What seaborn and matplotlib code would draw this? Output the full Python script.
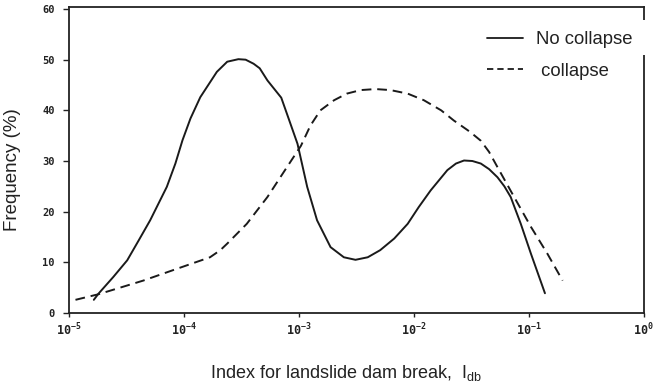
import numpy as np
import pandas as pd
import matplotlib
matplotlib.use("Agg")
import matplotlib.pyplot as plt
import matplotlib.patches as mpatches
from matplotlib.lines import Line2D
import seaborn as sns

# ---- data ----
no_collapse_x = [1.66e-5, 1.82e-5, 2.45e-5, 3.24e-5, 4.07e-5, 5.13e-5, 7.16e-5, 8.5e-5,
                 9.8e-5, 1.15e-4, 1.40e-4, 1.95e-4, 2.4e-4, 3.0e-4, 3.47e-4, 4.07e-4,
                 4.6e-4, 5.37e-4, 7.08e-4, 8.2e-4, 9.8e-4, 1.19e-3, 1.45e-3, 1.9e-3,
                 2.48e-3, 3.13e-3, 4.0e-3, 5.13e-3, 6.8e-3, 8.9e-3, 1.11e-2, 1.41e-2,
                 1.97e-2, 2.34e-2, 2.75e-2, 3.25e-2, 3.85e-2, 4.54e-2, 5.37e-2, 6.17e-2,
                 7.0e-2, 8.57e-2, 0.105, 0.139]
no_collapse_y = [2.6, 3.8, 7.1, 10.4, 14.3, 18.3, 24.9, 29.5,
                 34.1, 38.4, 42.6, 47.6, 49.6, 50.1, 50.0, 49.2,
                 48.3, 45.9, 42.5, 38.4, 33.4, 24.9, 18.3, 13.0,
                 11.0, 10.5, 11.0, 12.4, 14.7, 17.6, 20.9, 24.2,
                 28.2, 29.5, 30.1, 30.0, 29.5, 28.4, 26.8, 25.0,
                 22.9, 17.6, 11.7, 3.9]

collapse_x = [1.15e-5, 1.82e-5, 4.47e-5, 8.7e-5, 1.7e-4, 2.09e-4, 2.4e-4, 3.55e-4,
              5.37e-4, 7.94e-4, 1.05e-3, 1.27e-3, 1.55e-3, 2.04e-3, 2.63e-3, 3.47e-3,
              4.68e-3, 6.3e-3, 8.9e-3, 1.23e-2, 1.74e-2, 2.24e-2, 2.95e-2, 3.16e-2,
              3.85e-2, 4.54e-2, 5.37e-2, 7.5e-2, 0.105, 0.146, 0.198]
collapse_y = [2.6, 3.7, 6.4, 8.7, 11.0, 12.4, 13.7, 17.6,
              22.9, 28.8, 33.0, 37.0, 40.0, 42.0, 43.3, 44.0,
              44.2, 44.0, 43.3, 42.0, 40.0, 38.0, 36.1, 35.6,
              34.0, 31.8, 28.8, 22.9, 17.0, 11.7, 6.4]

x_ticks = [1e-5, 1e-4, 1e-3, 1e-2, 1e-1, 1e0]
x_tick_labels = [r"$10^{-5}$", r"$10^{-4}$", r"$10^{-3}$", r"$10^{-2}$", r"$10^{-1}$", r"$10^{0}$"]
y_ticks = [0, 10, 20, 30, 40, 50, 60]
series_labels = ["No collapse", " collapse"]

# ---- style ----
sns.set_style("ticks")
plt.rcParams["font.family"] = ["Liberation Sans", "DejaVu Sans"]
plt.rcParams["mathtext.fontset"] = "custom"
plt.rcParams["mathtext.rm"] = "DejaVu Sans Mono:bold"
plt.rcParams["mathtext.bf"] = "DejaVu Sans Mono:bold"
plt.rcParams["mathtext.sf"] = "Liberation Sans"
plt.rcParams["mathtext.it"] = "DejaVu Sans Mono:bold"

fig = plt.figure(figsize=(6.59, 3.87), dpi=100)
ax = fig.add_axes([68.5 / 659, 1 - 313 / 387, (643.5 - 68.5) / 659, (313 - 7.5) / 387])

df_nc = pd.DataFrame({"x": no_collapse_x, "y": no_collapse_y})
df_c = pd.DataFrame({"x": collapse_x, "y": collapse_y})

line_kw = dict(color="#1a1a1a", lw=1.4, sort=False, estimator=None)
sns.lineplot(data=df_nc, x="x", y="y", ax=ax, **line_kw)
sns.lineplot(data=df_c, x="x", y="y", ax=ax, linestyle=(0, (5.0, 3.0)), **line_kw)
for ln in ax.get_lines():
    ln.set_solid_joinstyle("round")
    ln.set_dash_joinstyle("round")

ax.set_xscale("log")
ax.set_xlim(1e-5, 1e0)
ax.set_ylim(0, 60.3)
ax.set_xticks(x_ticks)
ax.set_xticklabels(x_tick_labels)
ax.minorticks_off()
ax.set_yticks(y_ticks)
ax.set_yticklabels([str(v) for v in y_ticks], fontfamily="DejaVu Sans Mono",
                   fontweight="bold")

ax.tick_params(axis="x", direction="out", length=3, width=1.0, pad=3.0,
               labelsize=8.5, colors="#222222")
ax.tick_params(axis="y", direction="out", length=4, width=1.0, pad=6,
               labelsize=7.5, colors="#222222")

for s in ax.spines.values():
    s.set_visible(True)
    s.set_linewidth(1.3)
    s.set_color("#222222")

ax.set_xlabel("Index for landslide dam break,  $\\mathsf{I_{db}}$", fontsize=13,
              color="#222222", va="center")
ax.xaxis.set_label_coords((346 - 68.5) / 575, (313 - 373) / 305.5)
ax.set_ylabel("Frequency (%)", fontsize=13.5, color="#222222", va="center")
ax.yaxis.set_label_coords((13 - 68.5) / 575, (313 - 170) / 305.5)

handles = [Line2D([], [], color="#1a1a1a", lw=1.3),
           Line2D([], [], color="#1a1a1a", lw=1.3, linestyle=(0, (3.5, 2.2)))]
leg = ax.legend(handles, series_labels, loc="upper left",
                bbox_to_anchor=(487 / 659, 1 - 31 / 387),
                bbox_transform=fig.transFigure, frameon=False, fontsize=13.3,
                handlelength=1.95, handletextpad=0.7, labelspacing=0.8,
                borderpad=0, borderaxespad=0)
for t in leg.get_texts():
    t.set_color("#222222")

# white break of the right frame next to the legend
fig.add_artist(mpatches.Rectangle((639.5 / 659, 1 - 55 / 387), 10 / 659, 35 / 387,
                                  transform=fig.transFigure, facecolor="white",
                                  edgecolor="none", zorder=10))

fig.savefig("out.png", dpi=100)
